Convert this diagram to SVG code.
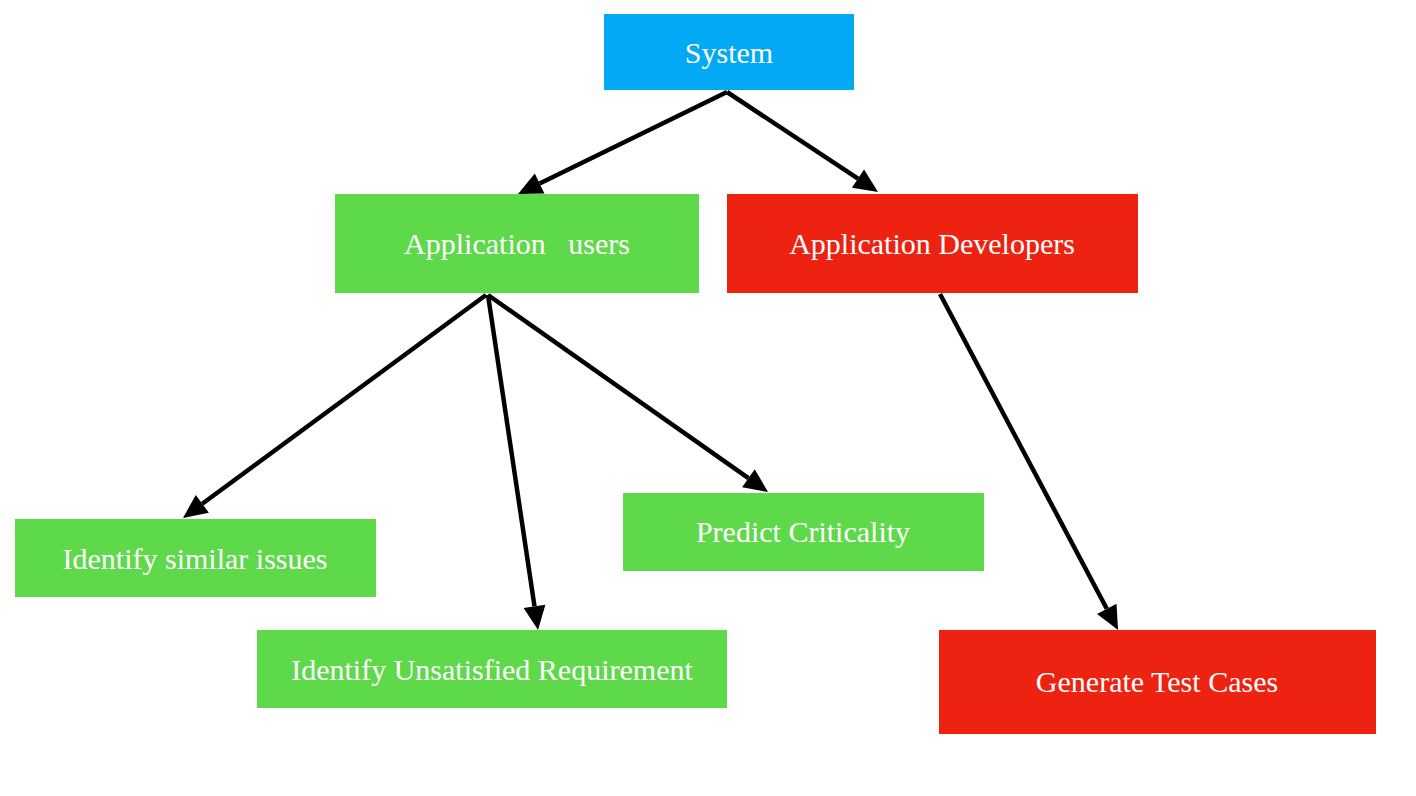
<svg xmlns="http://www.w3.org/2000/svg" width="1416" height="796" viewBox="0 0 1416 796">
<defs>
<marker id="arrow" markerUnits="userSpaceOnUse" markerWidth="24" markerHeight="22" refX="0" refY="11" orient="auto" overflow="visible">
<path d="M0,0 L24,11 L0,22 z" fill="#000"/>
</marker>
<style>
.lbl{font-family:"Liberation Serif","Times New Roman",serif;font-size:30px;fill:#fff;text-anchor:middle;dominant-baseline:central}
.blue{fill:#03a9f4}
.green{fill:#5ed94a}
.red{fill:#ee2211}
.edge{stroke:#000;stroke-width:4.5;fill:none;marker-end:url(#arrow)}
</style>
</defs>
<rect width="1416" height="796" fill="#fff"/>
<g id="connectors">
<line class="edge" x1="727" y1="92" x2="539.6" y2="183.5"/>
<line class="edge" x1="727" y1="92" x2="858" y2="178.7"/>
<line class="edge" x1="486" y1="295" x2="202.3" y2="503.8"/>
<line class="edge" x1="488" y1="295" x2="534.5" y2="606.3"/>
<line class="edge" x1="488" y1="295" x2="748.4" y2="478.2"/>
<line class="edge" x1="940" y1="294" x2="1106.8" y2="608.8"/>
</g>
<g id="system">
<rect class="blue" x="604" y="14" width="250" height="76"/>
<text class="lbl" x="729" y="52">System</text>
</g>
<g id="app-users">
<rect class="green" x="335" y="194" width="364" height="99"/>
<text class="lbl" x="517" y="243" xml:space="preserve">Application   users</text>
</g>
<g id="app-developers">
<rect class="red" x="727" y="194" width="411" height="99"/>
<text class="lbl" x="932" y="243">Application Developers</text>
</g>
<g id="identify-similar">
<rect class="green" x="15" y="519" width="361" height="78"/>
<text class="lbl" x="195" y="558">Identify similar issues</text>
</g>
<g id="identify-unsatisfied">
<rect class="green" x="257" y="630" width="470" height="78"/>
<text class="lbl" x="492" y="669">Identify Unsatisfied Requirement</text>
</g>
<g id="predict-criticality">
<rect class="green" x="623" y="493" width="361" height="78"/>
<text class="lbl" x="803" y="531">Predict Criticality</text>
</g>
<g id="generate-tests">
<rect class="red" x="939" y="630" width="437" height="104"/>
<text class="lbl" x="1157" y="681">Generate Test Cases</text>
</g>
</svg>
